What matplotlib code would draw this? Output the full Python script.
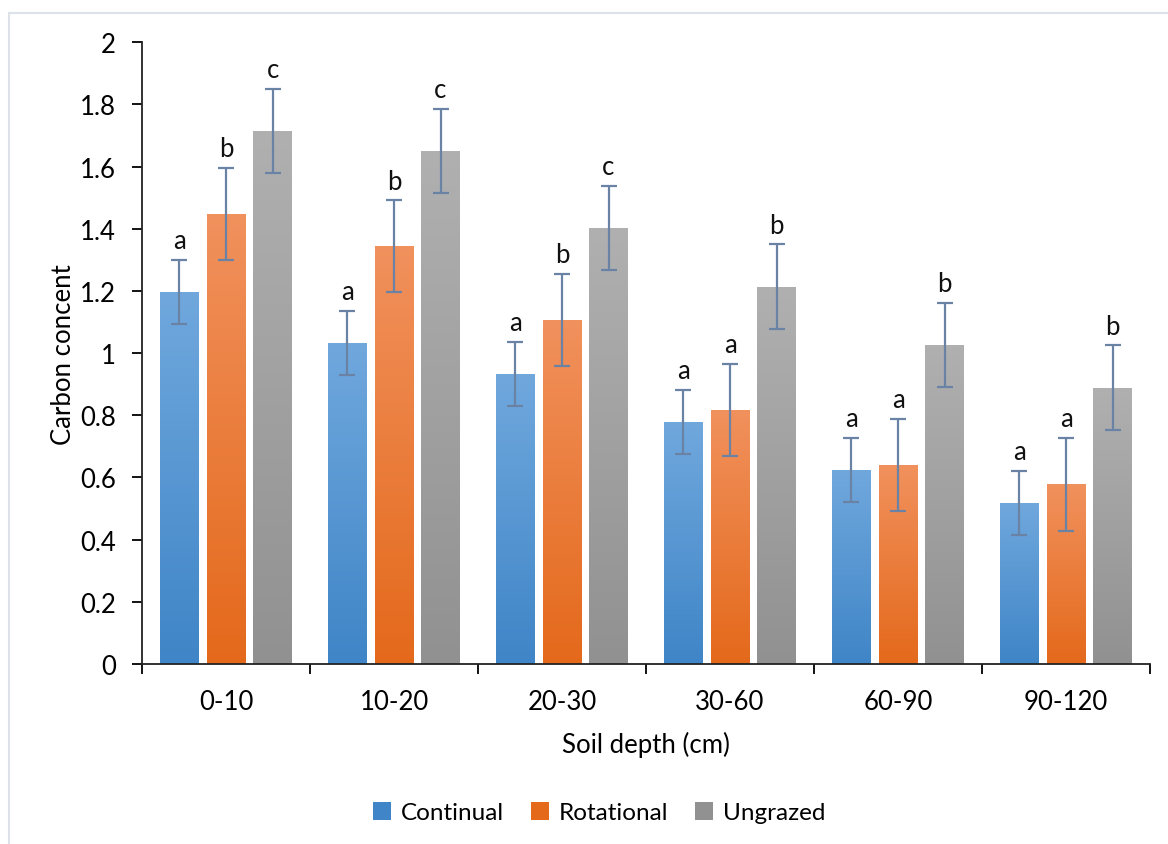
import numpy as np
import matplotlib
matplotlib.use('Agg')
import matplotlib.pyplot as plt
from matplotlib.colors import LinearSegmentedColormap
from matplotlib.patches import Rectangle, Patch

plt.rcParams['font.family'] = ['Lato', 'DejaVu Sans']

depths = ['0-10', '10-20', '20-30', '30-60', '60-90', '90-120']
series = ['Continual', 'Rotational', 'Ungrazed']

continual = [1.196, 1.032, 0.932, 0.778, 0.624, 0.518]
rotational = [1.447, 1.344, 1.106, 0.817, 0.640, 0.578]
ungrazed = [1.714, 1.650, 1.402, 1.214, 1.026, 0.889]

continual_err = [0.103, 0.103, 0.103, 0.103, 0.103, 0.103]
rotational_err = [0.149, 0.147, 0.148, 0.148, 0.148, 0.150]
ungrazed_err = [0.135, 0.135, 0.135, 0.136, 0.135, 0.136]

continual_letters = ['a', 'a', 'a', 'a', 'a', 'a']
rotational_letters = ['b', 'b', 'b', 'a', 'a', 'a']
ungrazed_letters = ['c', 'c', 'c', 'b', 'b', 'b']

# (top colour, bottom colour) of each bar's gradient
grads = [('#70a8dd', '#3f85c7'), ('#f1915d', '#e4691b'), ('#b0b0b0', '#919191')]

values = [continual, rotational, ungrazed]
errors = [continual_err, rotational_err, ungrazed_err]
letters = [continual_letters, rotational_letters, ungrazed_letters]

fs = 18.5

fig = plt.figure(figsize=(11.68, 8.45), dpi=100)
ax = fig.add_axes([0.1216, 0.2130, 0.8630, 0.7358])

x = np.arange(len(depths))
step = 0.277
width = 0.228
err_color = '#6a83a5'

for i in range(3):
    pos = x + (i - 1) * step
    bars = ax.bar(pos, values[i], width, color=grads[i][1], zorder=2)
    cmap = LinearSegmentedColormap.from_list('g%d' % i, [grads[i][1], grads[i][0]])
    for p in bars:
        x0, y0 = p.get_x(), p.get_y()
        im = ax.imshow(np.linspace(0, 1, 256).reshape(-1, 1), cmap=cmap,
                       origin='lower', aspect='auto', zorder=2.5,
                       extent=[x0, x0 + p.get_width(), y0, y0 + p.get_height()])
        im.set_clip_path(p)
    ax.errorbar(pos, values[i], yerr=errors[i], fmt='none', ecolor=err_color,
                elinewidth=1.6, capsize=6, capthick=1.6, zorder=3)
    for xp, v, e, t in zip(pos, values[i], errors[i], letters[i]):
        ax.annotate(t, (xp, v + e), xytext=(0, 8.5), textcoords='offset points',
                    ha='center', va='baseline', fontsize=fs, color='#111111')

ax.set_xlim(-0.5, len(depths) - 0.5)
ax.set_ylim(0, 2)
ax.set_yticks(np.arange(0, 2.01, 0.2))
ax.set_yticklabels(['0', '0.2', '0.4', '0.6', '0.8', '1', '1.2', '1.4', '1.6', '1.8', '2'])

ax.set_xticks(np.arange(-0.5, len(depths), 1.0))
ax.set_xticklabels([])
ax.set_xticks(x, minor=True)
ax.set_xticklabels(depths, minor=True)
ax.tick_params(axis='x', which='minor', length=0, pad=18, labelsize=fs)
ax.tick_params(axis='x', which='major', length=7, width=1.3, direction='out')
ax.tick_params(axis='y', length=7, width=1.3, pad=12, labelsize=fs)

for s in ['top', 'right']:
    ax.spines[s].set_visible(False)
for s in ['left', 'bottom']:
    ax.spines[s].set_linewidth(1.3)
    ax.spines[s].set_color('#222222')

ax.set_xlabel('Soil depth (cm)', fontsize=fs, labelpad=12)
ax.set_ylabel('Carbon concent', fontsize=fs)
ax.yaxis.set_label_coords(-0.066, 0.5)

handles = [Patch(facecolor=grads[i][1], edgecolor='none', label=series[i]) for i in range(3)]
fig.legend(handles=handles, loc='center', bbox_to_anchor=(0.513, 0.037), ncol=3,
           frameon=False, fontsize=17.5, handlelength=0.75, handleheight=0.75,
           handletextpad=0.4, columnspacing=1.1)

# light chart-area border
fig.patches.append(Rectangle((8.5 / 1168, -0.05), 1.1, 1.05 - 13.5 / 845,
                             transform=fig.transFigure, fill=False,
                             edgecolor='#dde2e8', linewidth=1.5, clip_on=False))

fig.savefig('out.png', dpi=100)
